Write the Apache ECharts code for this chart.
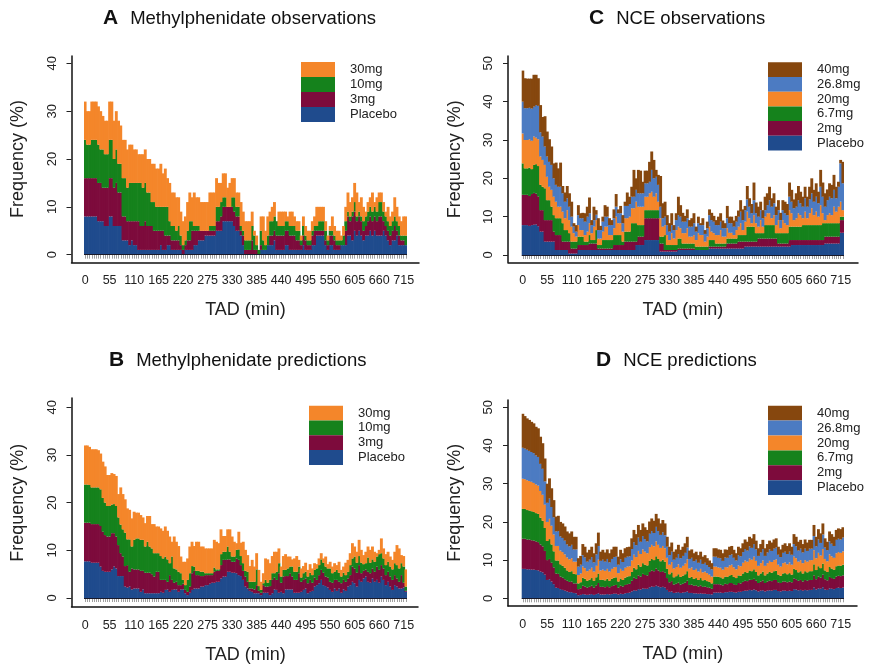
<!DOCTYPE html>
<html>
<head>
<meta charset="utf-8">
<script src="https://cdn.jsdelivr.net/npm/echarts@6/dist/echarts.min.js"></script>
<style>
  html, body { margin: 0; padding: 0; background: #fff; }
  #chart { width: 870px; height: 666px; }
</style>
</head>
<body>
<div id="chart"></div>
<script>
// time after dose, 5 min bins
const tad = Array.from({ length: 145 }, (_, i) => i * 5)

// A - methylphenidate observations (%)
const mphObsPlacebo = [8,8,8,8,8,8,7,7,7,6,6,8,8,6,6,6,6,3,3,3,2,3,2,2,1,1,1,1,1,1,1,1,1,1,2,1,1,2,2,1,1,1,1,1,0,1,1,1,1,2,2,3,3,3,4,4,4,4,4,5,5,5,7,7,7,7,7,6,5,5,4,2,0,0,0,0,0,0,0,1,1,1,2,2,2,3,1,1,1,1,2,2,1,1,1,1,1,1,2,1,1,1,2,2,4,4,4,4,2,1,2,2,1,1,1,2,2,2,4,4,3,5,4,5,4,3,4,4,5,4,5,4,4,4,5,4,3,2,3,3,4,2,2,2,2]
const mphObs3mg = [8,8,8,8,8,8,8,8,7,8,8,8,8,8,9,7,7,5,5,4,5,4,5,5,6,5,5,6,5,5,5,4,4,4,3,4,3,2,2,2,2,2,2,1,1,1,2,2,4,3,3,2,2,2,1,1,1,1,1,2,2,3,3,3,3,3,3,3,3,3,1,2,1,1,1,3,1,1,0,1,0,0,0,2,2,2,3,3,3,3,3,3,3,3,3,2,2,1,2,2,1,1,2,3,1,1,1,1,1,1,2,2,2,1,1,0,0,3,4,3,5,4,3,3,3,2,2,3,3,3,3,3,4,4,2,2,2,2,2,3,1,2,1,1,0]
const mphObs10mg = [8,7,7,8,8,8,8,7,8,7,7,8,8,6,7,6,6,8,8,7,8,8,8,8,8,9,8,8,7,7,5,6,5,5,5,5,6,6,3,3,3,2,3,2,1,1,2,4,2,1,1,1,0,0,0,0,1,1,1,3,3,3,2,2,0,0,2,3,2,2,1,1,2,2,2,3,3,1,1,3,2,1,2,3,3,3,3,2,2,2,2,2,2,2,2,2,2,1,2,1,1,1,1,1,1,2,2,2,2,1,1,1,1,1,1,1,2,2,1,1,1,2,1,1,1,2,2,2,2,2,2,2,3,3,2,2,2,2,2,2,2,2,1,1,2]
const mphObs30mg = [8,7,7,8,8,8,8,8,7,7,7,8,8,8,8,9,8,8,8,8,8,8,7,7,6,6,7,7,7,7,8,8,8,8,9,7,8,6,8,7,7,7,6,5,5,5,6,6,5,7,6,6,6,6,6,6,7,7,7,6,5,4,5,5,4,5,4,4,3,3,5,4,4,4,4,3,1,2,0,3,5,3,4,2,3,3,0,3,3,3,2,1,3,3,2,2,2,1,2,2,2,2,2,2,4,3,3,3,2,1,1,3,2,2,2,1,2,3,4,3,3,4,5,2,4,3,1,2,2,4,1,3,2,2,2,1,3,2,2,4,3,2,3,4,4]

// B - methylphenidate predictions (%)
const mphPredPlacebo = [7.7,7.7,7.7,7.4,7.4,7.4,7.4,6.6,5.7,5.5,5.5,5.5,6.0,6.6,6.2,4.6,4.6,4.6,2.4,2.2,2.4,1.8,2.0,2.0,2.0,1.3,1.8,1.0,1.0,1.0,1.0,1.0,1.0,1.0,1.3,1.1,1.7,1.8,1.3,1.7,1.8,1.8,1.3,1.8,1.8,1.0,0.6,1.1,1.7,2.0,2.0,2.0,2.4,2.4,2.7,2.7,3.0,3.2,3.2,3.4,3.4,4.1,4.5,4.5,5.5,5.5,5.3,5.3,5.2,4.8,4.6,3.8,2.4,2.0,1.5,1.3,1.0,1.0,1.0,0.6,1.1,1.1,1.1,0.6,1.0,1.8,1.7,1.1,1.3,1.0,1.8,1.8,1.8,1.8,1.1,1.1,1.1,1.3,1.7,2.0,1.0,1.3,1.5,2.4,2.7,3.1,3.8,2.7,2.5,2.2,1.7,1.3,2.0,1.5,2.0,1.1,1.8,1.5,2.4,2.7,3.4,3.1,2.4,3.8,3.4,4.1,4.5,3.4,3.2,4.1,3.4,3.8,3.2,4.5,3.8,2.7,3.4,2.4,1.7,2.7,2.4,2.0,2.0,2.2,1.3]
const mphPred3mg = [8.1,8.1,8.1,8.1,8.1,8.1,8.1,8.5,8.2,7.7,7.4,7.4,7.6,7.0,6.7,6.5,4.8,4.1,4.3,4.7,3.1,4.4,4.0,4.0,4.0,4.4,3.9,4.3,4.3,4.3,4.0,3.5,4.5,4.5,2.5,2.7,2.1,1.6,3.5,2.1,1.4,1.6,1.4,0.9,1.2,0.7,0.7,1.3,3.5,3.7,2.8,2.8,2.2,2.2,2.1,2.1,1.8,1.6,2.3,2.3,2.3,2.8,3.5,3.5,2.6,2.6,2.3,2.3,3.1,3.2,2.3,1.9,2.1,1.4,0.5,0.7,0.8,1.7,0.5,0.5,1.6,1.3,1.3,1.9,2.8,2.5,2.1,4.1,1.9,3.5,2.8,2.8,3.4,2.7,2.7,2.7,4.1,2.1,2.1,2.1,2.1,2.5,1.7,1.9,1.1,1.7,2.1,2.6,2.0,2.1,1.7,1.9,1.8,2.3,1.4,2.0,2.0,1.9,1.7,2.1,3.2,3.1,2.9,3.1,1.8,1.6,1.5,2.1,2.0,2.1,2.1,2.8,2.7,2.4,2.4,2.1,2.1,2.1,2.1,2.1,1.7,1.4,2.8,1.0,0.2]
const mphPred10mg = [8.0,8.0,7.9,7.7,7.7,7.7,7.7,7.7,7.1,6.8,6.4,6.4,6.0,6.1,6.4,5.8,6.0,5.7,7.0,5.4,6.8,4.6,6.2,6.5,6.5,6.5,6.5,5.5,6.5,5.5,5.4,4.9,3.9,3.9,5.0,4.5,4.9,4.7,2.5,4.9,3.0,2.6,2.8,2.5,0.8,1.0,2.5,2.8,1.5,0.9,0.9,0.9,0.9,0.9,0.4,0.4,0.4,0.4,0.9,0.3,0.3,2.3,1.7,1.7,2.7,1.6,1.1,1.1,1.8,2.2,1.9,1.6,1.2,2.1,1.4,1.4,1.6,3.3,1.0,0.6,0.4,1.4,0.8,1.3,1.4,0.9,1.7,2.1,1.3,1.4,1.3,1.6,1.4,2.1,1.7,1.7,1.4,0.9,1.4,1.4,1.4,1.5,1.6,1.6,2.4,2.1,2.2,2.1,2.1,1.9,2.8,2.0,1.7,2.1,1.9,1.4,1.5,1.4,1.4,2.1,1.7,2.5,2.1,1.9,2.2,1.4,1.3,3.0,2.2,1.9,2.1,2.1,3.3,2.5,2.1,2.1,2.1,2.1,2.2,2.5,2.8,2.8,2.5,3.4,0.9]
const mphPred30mg = [8.2,8.2,8.0,8.0,8.0,8.0,7.8,7.5,7.6,7.6,6.5,6.5,6.6,6.3,6.3,4.9,7.8,7.4,7.0,6.5,6.2,5.9,5.9,5.4,5.4,5.2,4.7,4.9,5.4,6.4,5.1,6.1,5.6,5.6,5.8,5.8,6.3,6.0,5.6,3.1,6.7,5.8,5.4,3.5,3.8,4.9,4.5,5.6,5.1,4.3,6.1,6.1,5.3,5.3,5.2,5.2,5.2,5.2,5.8,5.8,5.5,5.2,3.3,3.3,3.6,4.7,4.2,3.1,1.4,3.7,2.8,4.5,4.4,3.5,3.3,4.6,3.2,3.4,3.4,1.7,2.1,4.5,4.9,3.5,3.6,4.5,4.2,3.1,2.1,2.9,3.3,2.5,2.1,1.5,2.8,3.3,1.4,1.9,1.5,1.9,1.4,1.8,1.4,1.4,0.9,1.4,1.3,0.9,2.1,0.9,1.4,1.4,1.8,1.0,2.3,1.4,1.3,2.6,2.5,2.5,3.2,2.1,2.3,3.4,2.7,1.9,2.4,2.3,2.7,2.7,2.1,0.7,0.9,3.1,2.1,2.3,2.1,2.1,2.0,2.4,4.2,4.2,1.7,2.2,3.6]

// C - NCE observations (%)
const nceObsPlacebo = [7.8,7.8,7.8,7.6,7.8,7.9,8.0,7.5,6.1,6.1,3.5,3.5,3.5,3.5,3.5,1.3,1.3,1.3,1.3,1.3,1.3,0.4,0.4,0.4,0.4,1.3,1.3,1.3,1.3,1.3,1.3,1.3,1.3,1.3,1.3,1.3,1.3,1.3,1.3,1.3,1.3,1.3,1.3,1.3,1.3,1.3,1.3,1.3,1.3,1.3,1.3,2.6,2.6,2.6,2.6,3.9,3.9,3.9,3.9,3.9,3.9,3.9,0.9,0.9,0.9,0.9,0.9,0.9,0.9,0.9,1.3,1.3,1.3,1.3,1.3,1.3,1.3,1.3,1.3,1.3,1.3,1.3,1.3,1.3,1.7,1.7,1.7,1.7,1.7,1.7,1.7,1.7,1.7,1.7,1.7,1.7,1.7,1.7,1.7,1.7,2.2,2.2,2.2,2.2,2.2,2.2,2.2,2.2,2.2,2.2,2.2,2.2,2.2,2.2,2.2,2.2,2.2,2.2,2.2,2.2,2.2,2.6,2.6,2.6,2.6,2.6,2.6,2.6,2.6,2.6,2.6,2.6,2.6,2.6,2.6,2.6,3.0,3.0,3.0,3.0,3.0,3.0,3.0,5.8,5.8]
const nceObs2mg = [7.9,7.9,7.9,7.8,8.1,8.3,8.0,7.8,5.6,5.6,5.6,5.6,5.6,5.6,2.6,3.9,3.9,3.9,2.2,2.2,2.2,3.1,1.3,1.3,1.3,1.3,1.3,1.3,1.3,1.3,1.7,1.7,1.7,1.7,0.4,0.4,0.4,0.4,0.4,0.4,0.4,1.3,1.3,1.3,1.3,1.3,2.2,2.2,2.2,2.2,2.2,0.9,2.2,2.2,2.2,5.7,5.7,5.7,5.7,5.7,5.7,5.7,2.1,2.1,0.4,0.4,0.4,0.4,0.4,0.4,0.4,0.4,0.4,0.4,0.4,0.4,0.4,0.4,0,0,0,0,0,0,0.5,0.5,0.5,0.5,0.5,0.5,0.5,0.5,1.3,1.3,1.3,1.3,1.3,1.8,1.8,1.8,1.3,1.3,1.3,1.3,1.3,1.3,2.1,2.1,2.1,2.1,2.1,2.1,2.1,2.1,2.1,0.8,0.8,0.8,0.8,0.8,1.7,1.3,1.3,1.3,1.3,1.3,1.3,1.3,1.3,1.3,1.3,1.3,1.3,1.3,1.3,1.3,1.8,1.8,1.8,1.8,1.8,1.8,1.8,3.3,3.3]
const nceObs6_7mg = [8.2,6.9,6.9,7.4,6.5,7.3,7.7,7.9,6.6,6.1,8.3,5.2,5.2,3.5,4.3,4.4,4.4,4.4,4.8,3.0,3.0,2.2,1.8,1.8,1.8,2.2,2.2,2.2,0.9,0.9,2.2,0.9,0.9,3.5,0.9,0.9,2.2,2.2,2.2,2.2,2.2,2.6,2.6,2.6,2.6,0.9,2.6,2.6,2.6,4.8,4.8,4.8,3.0,3.0,3.0,2.1,2.1,2.1,2.1,2.1,2.1,2.1,1.8,1.8,3.9,1.3,1.3,1.3,1.3,1.3,2.6,2.6,1.3,1.3,1.3,1.3,1.3,1.3,0.9,0.9,0.9,0.9,0.9,0.9,1.7,1.7,1.7,0.8,0.8,0.8,0.8,0.8,1.3,1.3,1.3,1.3,1.3,1.7,1.7,1.7,1.7,3.9,3.9,3.9,3.9,2.2,1.4,1.4,1.4,3.5,3.5,3.5,3.5,3.5,1.4,2.7,2.7,2.7,2.7,2.7,3.5,3.5,3.5,3.5,3.5,3.5,3.9,3.9,3.9,3.9,3.9,3.9,3.9,3.9,3.9,4.4,3.5,3.5,3.5,3.5,3.5,3.5,3.5,0.9,0.9]
const nceObs20mg = [7.8,7.4,7.4,7.4,7.4,7.4,6.9,7.0,7.4,7.0,6.1,6.1,3.5,4.4,4.8,4.3,3.0,3.0,3.0,3.1,5.2,3.4,3.9,2.2,1.3,3.0,1.7,1.7,1.7,2.6,3.1,1.8,3.5,2.6,1.7,1.7,2.2,3.5,3.5,1.3,1.3,1.8,4.8,3.1,3.1,2.6,3.5,3.5,3.9,3.9,3.9,5.6,4.8,4.8,4.8,3.5,3.5,4.4,4.8,3.5,4.4,2.2,4.8,2.6,2.6,2.6,1.3,3.1,1.7,3.9,3.1,2.7,2.7,2.7,4.0,1.8,1.8,2.2,1.7,3.5,3.0,3.0,1.3,2.6,3.5,2.2,1.8,2.2,2.2,3.5,1.8,1.8,2.7,1.5,1.5,0.9,2.2,2.2,3.1,1.3,3.5,3.9,2.2,0.9,3.0,2.6,1.7,3.4,1.7,2.2,3.1,3.1,1.8,2.6,2.1,3.4,1.3,3.4,2.6,2.1,4.3,3.5,1.7,2.2,3.5,3.0,1.8,3.5,1.8,3.1,4.4,2.6,3.5,2.2,5.2,2.6,0.8,2.1,2.6,2.1,4.3,3.0,4.3,3.9,1.7]
const nceObs26_8mg = [8.3,8.3,8.3,8.2,8.4,7.8,8.5,8.7,6.3,6.1,4.8,5.3,6.5,6.5,4.8,4.4,5.2,5.2,4.8,4.3,3.1,3.5,2.6,1.7,1.3,2.6,3.1,3.1,3.5,3.9,2.6,2.1,1.7,1.4,2.2,2.2,2.6,2.6,2.6,2.6,2.6,2.6,2.6,2.6,2.6,2.2,3.2,3.2,3.3,3.0,3.0,3.1,3.5,3.5,3.5,3.5,3.5,3.0,5.7,4.8,4.3,4.4,3.0,2.2,2.2,2.6,2.2,2.1,2.2,2.6,3.0,3.0,3.0,3.0,2.6,2.6,2.6,3.1,2.2,2.6,2.6,2.6,2.0,2.2,3.0,3.0,3.0,2.6,2.6,2.2,2.2,2.2,2.6,2.5,2.5,2.2,2.2,2.6,3.0,2.6,3.0,3.2,3.0,2.6,3.9,2.6,2.6,2.6,2.2,1.7,2.1,3.4,3.0,3.1,2.6,2.6,2.1,2.6,2.6,2.6,3.5,3.0,3.1,3.0,3.4,3.1,3.0,3.5,3.0,3.6,3.9,3.5,3.9,3.5,4.8,4.3,3.5,3.9,4.3,4.4,4.4,3.5,5.2,10.0,7.0]
const nceObs40mg = [8.1,7.8,7.7,7.6,7.8,8.3,7.9,7.2,7.1,5.1,7.9,6.5,5.9,4.8,3.9,5.8,4.8,6.3,1.9,2.4,3.2,3.5,3.9,0.9,1.7,2.6,1.3,1.4,2.2,2.6,4.1,1.3,3.5,1.2,3.1,1.1,1.3,3.0,2.6,1.8,1.3,2.3,3.3,1.0,1.9,2.1,1.1,3.5,1.9,2.6,7.0,3.0,6.1,5.9,3.0,3.3,3.3,5.2,4.8,4.8,1.8,2.6,8.0,3.9,3.9,2.6,2.2,3.1,1.3,1.8,4.8,3.0,2.3,1.5,2.3,1.7,2.2,2.6,1.3,1.7,0.5,1.8,1.0,1.7,1.5,1.9,1.5,1.3,2.2,2.2,2.0,1.3,3.2,1.7,1.7,1.6,1.5,1.6,3.0,2.8,1.1,3.5,2.2,2.4,4.6,2.8,2.6,2.2,2.1,3.5,3.1,3.5,2.2,2.6,2.2,2.6,1.9,2.6,3.0,2.9,3.7,3.1,2.3,3.5,3.7,3.0,2.6,3.0,2.6,3.3,3.9,3.1,3.5,3.0,4.4,3.7,3.5,2.8,3.5,3.5,3.9,3.0,1.3,0.9,5.6]

// D - NCE predictions (%)
const ncePredPlacebo = [7.7,7.7,7.6,7.6,7.5,7.5,7.4,7.3,7.0,6.8,6.2,4.8,5.0,4.4,3.7,2.8,2.7,2.4,2.2,2.0,1.8,1.6,1.6,1.4,1.3,0.8,0.9,1.1,1.0,0.9,1.0,1.1,0.9,1.1,1.3,1.0,1.0,1.0,1.1,1.0,1.1,1.2,1.2,1.0,1.2,1.1,1.3,1.4,1.5,1.8,2.1,2.0,2.4,2.3,2.6,2.5,2.5,2.9,3.1,3.0,3.3,3.1,2.9,3.0,2.8,2.2,1.7,1.8,1.4,1.5,1.6,1.4,1.5,1.6,1.8,1.4,1.4,1.3,1.3,1.2,1.3,1.2,1.2,1.1,1.1,1.0,1.5,1.5,1.5,1.5,1.4,1.6,1.6,1.7,1.7,1.6,1.5,1.7,1.7,1.9,2.0,2.0,2.2,2.1,2.3,2.1,1.8,2.0,2.1,1.8,2.0,2.1,2.0,2.2,2.2,1.9,1.8,2.0,2.0,1.9,2.0,1.9,2.4,2.3,2.1,2.2,2.0,2.2,2.1,2.2,2.2,2.8,2.3,2.6,2.5,2.9,2.3,2.2,2.6,2.5,2.4,2.7,2.8,2.7,2.8]
const ncePred2mg = [7.9,7.9,7.8,7.8,7.7,7.6,7.5,7.4,7.1,6.8,6.2,5.2,5.3,4.9,4.4,3.7,3.7,3.3,3.2,3.0,2.8,2.7,2.8,2.5,2.6,1.6,1.7,2.2,2.1,1.9,2.0,2.2,1.9,2.3,2.7,2.0,2.0,1.9,2.1,1.9,2.1,2.2,2.3,1.8,2.1,2.0,2.2,2.3,2.3,2.8,3.3,3.1,3.6,3.4,3.8,3.6,3.5,4.0,4.2,4.1,4.5,4.2,4.0,4.1,3.9,3.1,2.5,2.7,2.2,2.3,2.5,2.2,2.3,2.5,2.8,2.1,2.2,2.0,2.1,1.9,2.1,1.8,1.9,1.8,1.7,1.5,2.2,2.2,2.2,2.1,2.0,2.2,2.1,2.3,2.3,2.1,2.0,2.3,2.2,2.4,2.6,2.5,2.7,2.7,2.8,2.5,2.2,2.4,2.6,2.2,2.4,2.5,2.5,2.6,2.6,2.3,2.2,2.4,2.4,2.3,2.4,2.3,2.8,2.7,2.5,2.6,2.4,2.6,2.5,2.6,2.6,3.2,2.7,3.1,2.9,3.3,2.7,2.5,3.0,2.8,2.7,3.0,3.1,3.1,3.2]
const ncePred6_7mg = [7.8,7.8,7.7,7.6,7.6,7.5,7.4,7.4,7.0,6.7,6.0,5.0,5.2,4.8,4.2,3.4,3.5,3.2,3.1,3.0,2.7,2.6,2.7,2.5,2.4,1.5,1.6,2.1,2.0,1.8,1.9,2.0,1.8,2.1,2.5,1.8,1.9,1.8,1.9,1.7,1.9,2.0,2.0,1.6,1.9,1.7,1.9,2.0,2.0,2.3,2.6,2.5,2.8,2.6,2.8,2.7,2.6,2.9,3.0,2.9,3.2,3.0,2.8,3.0,2.9,2.4,2.1,2.3,1.9,2.0,2.2,2.0,2.1,2.2,2.5,1.9,2.0,1.8,1.9,1.7,1.9,1.7,1.7,1.6,1.5,1.4,2.0,2.0,1.9,1.9,1.8,1.9,1.9,2.0,2.1,1.9,1.8,2.0,2.0,2.2,2.3,2.2,2.4,2.3,2.5,2.3,2.0,2.1,2.3,2.0,2.1,2.3,2.2,2.3,2.4,2.0,1.9,2.1,2.2,2.1,2.2,2.0,2.5,2.4,2.2,2.3,2.1,2.3,2.2,2.3,2.3,2.9,2.4,2.7,2.5,2.9,2.3,2.2,2.6,2.5,2.4,2.7,2.7,2.7,2.8]
const ncePred20mg = [7.9,7.8,7.8,7.7,7.7,7.6,7.5,7.4,7.0,6.8,6.1,5.0,5.3,4.9,4.4,3.8,3.8,3.6,3.6,3.5,3.4,3.3,3.4,3.2,3.3,2.2,2.3,2.9,2.8,2.5,2.6,2.7,2.4,3.0,3.6,2.5,2.6,2.5,2.6,2.4,2.6,2.7,2.7,2.2,2.5,2.4,2.6,2.6,2.6,3.0,3.4,3.2,3.6,3.3,3.6,3.4,3.2,3.6,3.7,3.6,3.9,3.7,3.5,3.6,3.5,2.9,2.5,2.7,2.3,2.4,2.6,2.4,2.6,2.8,3.1,2.4,2.5,2.3,2.4,2.2,2.4,2.1,2.2,2.1,1.9,1.8,2.6,2.6,2.5,2.5,2.3,2.5,2.5,2.6,2.7,2.5,2.3,2.6,2.5,2.8,3.0,2.9,3.1,3.0,3.3,2.9,2.5,2.7,2.9,2.5,2.7,2.9,2.8,2.9,3.0,2.6,2.4,2.7,2.8,2.6,2.8,2.6,3.2,3.1,2.8,2.9,2.7,2.9,2.8,2.9,2.9,3.7,3.1,3.5,3.3,3.8,3.0,2.8,3.3,3.2,3.1,3.4,3.5,3.4,3.5]
const ncePred26_8mg = [8.1,8.0,8.0,7.9,7.8,7.8,7.6,7.5,7.1,6.8,6.1,5.0,5.3,4.9,4.5,3.8,3.9,3.7,3.7,3.6,3.4,3.4,3.5,3.2,3.2,2.2,2.3,3.0,2.8,2.5,2.6,2.8,2.4,3.0,3.6,2.5,2.6,2.4,2.6,2.4,2.6,2.7,2.7,2.2,2.5,2.3,2.6,2.6,2.6,3.0,3.3,3.1,3.5,3.2,3.5,3.3,3.1,3.5,3.6,3.5,3.8,3.6,3.4,3.6,3.4,2.9,2.5,2.7,2.3,2.4,2.7,2.5,2.6,2.8,3.1,2.5,2.5,2.3,2.4,2.3,2.4,2.2,2.3,2.1,2.0,1.9,2.6,2.6,2.5,2.5,2.3,2.5,2.5,2.7,2.7,2.5,2.3,2.7,2.6,2.8,3.0,2.9,3.2,3.1,3.3,3.0,2.6,2.8,3.0,2.6,2.8,3.0,2.9,3.0,3.1,2.6,2.5,2.7,2.8,2.7,2.8,2.6,3.3,3.1,2.9,3.0,2.8,3.0,2.8,3.0,3.0,3.7,3.1,3.5,3.3,3.8,3.0,2.9,3.4,3.3,3.1,3.5,3.5,3.5,3.6]
const ncePred40mg = [8.9,8.5,8.2,8.1,7.9,7.8,7.5,7.5,7.1,6.7,6.0,5.0,5.3,4.9,4.5,3.9,4.0,3.8,3.8,3.7,3.4,3.4,3.5,3.3,3.3,2.2,2.3,2.9,2.8,2.4,2.6,2.7,2.4,2.9,3.5,2.4,2.6,2.4,2.5,2.4,2.5,2.7,2.6,2.1,2.5,2.3,2.5,2.5,2.5,2.8,3.2,2.9,3.3,3.1,3.3,3.1,3.0,3.2,3.3,3.2,3.4,3.3,3.0,3.2,3.1,2.6,2.2,2.4,2.1,2.2,2.4,2.2,2.4,2.5,2.8,2.2,2.2,2.1,2.1,2.0,2.1,1.9,2.0,1.8,1.7,1.6,2.2,2.2,2.2,2.2,2.0,2.1,2.1,2.2,2.2,2.1,1.9,2.2,2.1,2.3,2.5,2.3,2.5,2.5,2.6,2.3,2.0,2.2,2.4,2.0,2.2,2.3,2.2,2.4,2.4,2.1,2.0,2.1,2.2,2.1,2.2,2.1,2.6,2.5,2.3,2.3,2.2,2.4,2.2,2.3,2.3,2.9,2.5,2.7,2.5,2.9,2.4,2.2,2.6,2.5,2.4,2.6,2.7,2.7,2.7]

const FONT = 'Liberation Sans, Arial, Helvetica, sans-serif'
const C_PLACEBO = '#1f4b8d'
const C_LOW = '#7d0b3c'
const C_MID = '#15821c'
const C_HIGH = '#f4862a'
const C_HIGHER = '#4c7bc2'
const C_TOP = '#86470e'

const chart = echarts.init(document.getElementById('chart'))

// panel layout: data grid (bars) and a slightly larger frame grid for the L shaped axes
const panels = [
  { grid: { left: 84, top: 63.3, width: 323, height: 191.4 }, frame: { left: 71.5, top: 56, width: 347.5, height: 206.5 }, max: 40, xOff: 7.8, yOff: 12.5 },
  { grid: { left: 84, top: 407.3, width: 323, height: 190.7 }, frame: { left: 71.5, top: 398, width: 346.5, height: 208.7 }, max: 40, xOff: 8.7, yOff: 12.5 },
  { grid: { left: 521.7, top: 63.3, width: 322.3, height: 191.7 }, frame: { left: 508, top: 56, width: 350, height: 206.3 }, max: 50, xOff: 7.3, yOff: 13.7 },
  { grid: { left: 521.7, top: 407.3, width: 322.3, height: 191 }, frame: { left: 508, top: 400, width: 349, height: 206 }, max: 50, xOff: 7.7, yOff: 13.7 }
]

const grids = panels.map(p => p.grid).concat(panels.map(p => p.frame))

const xAxes = panels.map((p, i) => ({
  type: 'category',
  gridIndex: i,
  data: tad,
  offset: p.xOff,
  axisLine: { show: false },
  axisTick: { show: true, interval: 0, alignWithLabel: true, length: 4, lineStyle: { color: '#777', width: 0.7 } },
  axisLabel: { interval: 10, margin: 12, fontSize: 12.5, color: '#222', fontFamily: FONT },
  name: 'TAD (min)',
  nameLocation: 'middle',
  nameGap: 39,
  nameTextStyle: { fontSize: 18, color: '#222', fontFamily: FONT }
})).concat(panels.map((p, i) => ({
  type: 'value', gridIndex: 4 + i, min: 0, max: 1,
  axisLine: { show: true, onZero: false, lineStyle: { color: '#111', width: 1.5 } },
  axisTick: { show: false }, axisLabel: { show: false }, splitLine: { show: false }
})))

const yAxes = panels.map((p, i) => ({
  type: 'value',
  gridIndex: i,
  min: 0,
  max: p.max,
  interval: 10,
  offset: p.yOff,
  axisLine: { show: false },
  axisTick: { show: true, length: 5, lineStyle: { color: '#222', width: 1 } },
  splitLine: { show: false },
  axisLabel: { rotate: 90, margin: 13, fontSize: 13, color: '#222', fontFamily: FONT },
  name: 'Frequency (%)',
  nameLocation: 'middle',
  nameGap: 44,
  nameTextStyle: { fontSize: 18, color: '#222', fontFamily: FONT }
})).concat(panels.map((p, i) => ({
  type: 'value', gridIndex: 4 + i, min: 0, max: 1,
  axisLine: { show: true, onZero: false, lineStyle: { color: '#111', width: 1.5 } },
  axisTick: { show: false }, axisLabel: { show: false }, splitLine: { show: false }
})))

function stack (idx, names, arrays, colors) {
  return names.map((n, j) => {
    const s = {
      name: n,
      type: 'bar',
      stack: 'panel' + idx,
      xAxisIndex: idx,
      yAxisIndex: idx,
      data: arrays[j],
      // a bit wider than the 2.2px band so neighbouring bars overlap and no seams show
      barWidth: 2.9,
      itemStyle: { color: colors[j] },
      emphasis: { disabled: true }
    }
    if (j === 0) {
      // dark base line under the bars
      s.markLine = { silent: true, symbol: 'none', label: { show: false }, lineStyle: { color: '#1a1a2a', width: 1, type: 'solid' }, data: [{ yAxis: 0 }] }
    }
    return s
  })
}

const mphNames = ['Placebo', '3mg', '10mg', '30mg']
const mphColors = [C_PLACEBO, C_LOW, C_MID, C_HIGH]
const nceNames = ['Placebo', '2mg', '6.7mg', '20mg', '26.8mg', '40mg']
const nceColors = [C_PLACEBO, C_LOW, C_MID, C_HIGH, C_HIGHER, C_TOP]

const series = [].concat(
  stack(0, mphNames, [mphObsPlacebo, mphObs3mg, mphObs10mg, mphObs30mg], mphColors),
  stack(1, mphNames, [mphPredPlacebo, mphPred3mg, mphPred10mg, mphPred30mg], mphColors),
  stack(2, nceNames, [nceObsPlacebo, nceObs2mg, nceObs6_7mg, nceObs20mg, nceObs26_8mg, nceObs40mg], nceColors),
  stack(3, nceNames, [ncePredPlacebo, ncePred2mg, ncePred6_7mg, ncePred20mg, ncePred26_8mg, ncePred40mg], nceColors)
)

function legend (left, top, h, data) {
  return {
    left: left, top: top, orient: 'vertical', icon: 'rect',
    padding: 0,
    itemWidth: 34, itemHeight: h, itemGap: 0,
    selectedMode: false,
    data: data,
    itemStyle: { borderWidth: 0 },
    textStyle: { fontSize: 13, color: '#222', fontFamily: FONT, padding: [0, 0, 0, 10] }
  }
}

function title (left, top, letter, text) {
  return {
    left: left, top: top, padding: 0,
    text: '{l|' + letter + '}{t|' + text + '}',
    textStyle: {
      rich: {
        l: { fontSize: 21, fontWeight: 'bold', color: '#111', fontFamily: FONT },
        t: { fontSize: 18.5, fontWeight: 'normal', color: '#111', fontFamily: FONT, padding: [0, 0, 0, 12] }
      }
    }
  }
}

chart.setOption({
  animation: false,
  title: [
    title(103, 8, 'A', 'Methylphenidate observations'),
    title(109, 350, 'B', 'Methylphenidate predictions'),
    title(589, 8, 'C', 'NCE observations'),
    title(596, 350, 'D', 'NCE predictions')
  ],
  legend: [
    legend(301, 62, 15, ['30mg', '10mg', '3mg', 'Placebo']),
    legend(309, 405.7, 14.8, ['30mg', '10mg', '3mg', 'Placebo']),
    legend(768, 62.3, 14.7, ['40mg', '26.8mg', '20mg', '6.7mg', '2mg', 'Placebo']),
    legend(768, 405.7, 14.9, ['40mg', '26.8mg', '20mg', '6.7mg', '2mg', 'Placebo'])
  ],
  grid: grids,
  xAxis: xAxes,
  yAxis: yAxes,
  series: series
})
</script>
</body>
</html>
